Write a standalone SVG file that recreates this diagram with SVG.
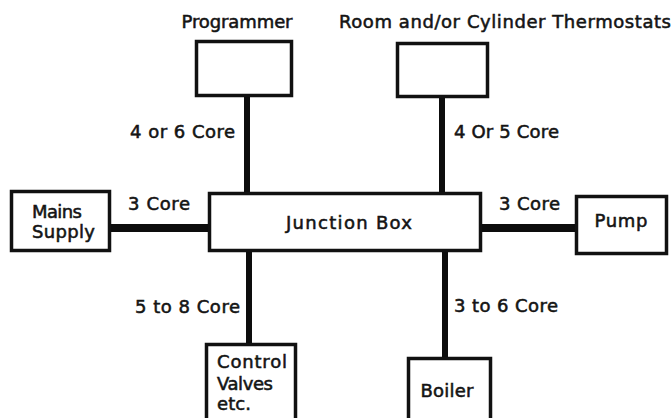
<svg xmlns="http://www.w3.org/2000/svg" width="672" height="418" viewBox="0 0 672 418">
  <style>
    .box { fill: #ffffff; stroke: #111111; stroke-width: 3.5; }
    .wire { stroke: #0d0d0d; stroke-linecap: butt; fill: none; }
    .v { stroke-width: 6; }
    .h { stroke-width: 8; }
    text { font-family: "DejaVu Sans", "Liberation Sans", sans-serif; font-size: 18px; fill: #141414; stroke: #141414; stroke-width: 0.55; }
    .c { text-anchor: middle; }
  </style>
  <rect width="672" height="418" fill="#ffffff"/>

  <!-- cable runs between the junction box and each unit -->
  <g id="connectors">
    <line class="wire v" x1="247" y1="96" x2="247" y2="194"/>
    <line class="wire v" x1="442" y1="97" x2="442" y2="194"/>
    <line class="wire h" x1="110" y1="228" x2="210" y2="228"/>
    <line class="wire h" x1="480" y1="228" x2="577" y2="228"/>
    <line class="wire v" x1="249" y1="250" x2="249" y2="345"/>
    <line class="wire v" x1="445" y1="250" x2="445" y2="359"/>
    <text x="235" y="138" text-anchor="end" textLength="105" lengthAdjust="spacing">4 or 6 Core</text>
    <text x="454" y="138" textLength="105" lengthAdjust="spacing">4 Or 5 Core</text>
    <text x="128" y="210" textLength="62" lengthAdjust="spacing">3 Core</text>
    <text x="499" y="210" textLength="61" lengthAdjust="spacing">3 Core</text>
    <text x="240" y="313" text-anchor="end" textLength="105" lengthAdjust="spacing">5 to 8 Core</text>
    <text x="454" y="312" textLength="104" lengthAdjust="spacing">3 to 6 Core</text>
  </g>

  <g id="programmer">
    <text x="237" y="28" class="c" textLength="111" lengthAdjust="spacing">Programmer</text>
    <rect class="box" x="196.5" y="41.5" width="95" height="54"/>
  </g>

  <g id="thermostats">
    <text x="505" y="28" class="c" textLength="332" lengthAdjust="spacing">Room and/or Cylinder Thermostats</text>
    <rect class="box" x="397.5" y="43.5" width="90" height="53"/>
  </g>

  <g id="junction-box">
    <rect class="box" x="209.5" y="193.5" width="271" height="57"/>
    <text x="349" y="229" class="c" textLength="126" lengthAdjust="spacing">Junction Box</text>
  </g>

  <g id="mains-supply">
    <rect class="box" x="11.5" y="191.5" width="98" height="59"/>
    <text x="32" y="218" textLength="50" lengthAdjust="spacing">Mains</text>
    <text x="32" y="238" textLength="63" lengthAdjust="spacing">Supply</text>
  </g>

  <g id="pump">
    <rect class="box" x="576.5" y="196.5" width="90" height="57"/>
    <text x="621" y="227" class="c" textLength="53" lengthAdjust="spacing">Pump</text>
  </g>

  <g id="control-valves">
    <rect class="box" x="206.5" y="344.5" width="89" height="80"/>
    <text x="217" y="368" textLength="70" lengthAdjust="spacing">Control</text>
    <text x="217" y="390" textLength="56" lengthAdjust="spacing">Valves</text>
    <text x="217" y="410" textLength="34" lengthAdjust="spacing">etc.</text>
  </g>

  <g id="boiler">
    <rect class="box" x="408.5" y="358.5" width="82" height="70"/>
    <text x="447" y="397" class="c" textLength="53" lengthAdjust="spacing">Boiler</text>
  </g>
</svg>
